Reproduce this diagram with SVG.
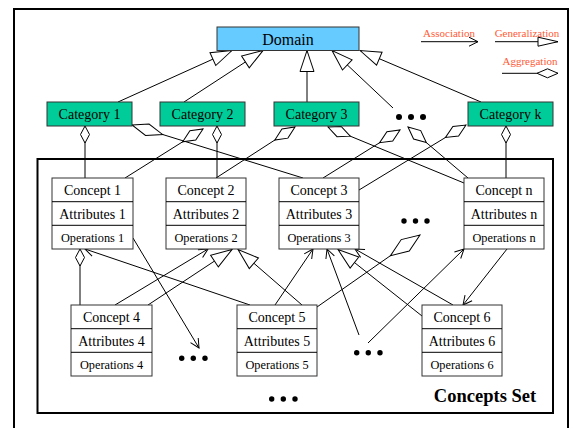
<svg xmlns="http://www.w3.org/2000/svg" width="581" height="428" viewBox="0 0 581 428">
<style>
text{font-family:"Liberation Serif","Times New Roman",serif;fill:#000;text-anchor:middle}
.box{fill:#fff;stroke:#333;stroke-width:1}
.dom{fill:#66CCFF;stroke:#333;stroke-width:1}
.cat{fill:#00CC99;stroke:#333;stroke-width:1}
.t14{font-size:14px}
.t12{font-size:12.3px}
.lg{font-size:11px;fill:#FF5A36}
.c{fill:none;stroke:#000;stroke-width:1}
.frame{fill:none;stroke:#000;stroke-width:2}
.dot{fill:#000}
</style>
<defs>
<marker id="tri" markerUnits="userSpaceOnUse" orient="auto" refX="0" refY="0" overflow="visible"><path d="M0,0 L-21,-7 L-21,7 Z" fill="#fff" stroke="#000" stroke-width="1"/></marker>
<marker id="triS" markerUnits="userSpaceOnUse" orient="auto" refX="0" refY="0" overflow="visible"><path d="M0,0 L-20,-4.5 L-20,4.5 Z" fill="#fff" stroke="#000" stroke-width="1"/></marker>
<marker id="arr" markerUnits="userSpaceOnUse" orient="auto" refX="0" refY="0" overflow="visible"><path d="M-9,-4.5 L0,0 L-9,4.5" fill="none" stroke="#000" stroke-width="1"/></marker>
<marker id="dS" markerUnits="userSpaceOnUse" orient="auto" refX="0" refY="0" overflow="visible"><path d="M0,0 L8.5,-4.5 L17,0 L8.5,4.5 Z" fill="#fff" stroke="#000" stroke-width="1"/></marker>
<marker id="dM" markerUnits="userSpaceOnUse" orient="auto" refX="0" refY="0" overflow="visible"><path d="M0,0 L12,-5.5 L24,0 L12,5.5 Z" fill="#fff" stroke="#000" stroke-width="1"/></marker>
<marker id="dL" markerUnits="userSpaceOnUse" orient="auto" refX="0" refY="0" overflow="visible"><path d="M0,0 L16,-6 L32,0 L16,6 Z" fill="#fff" stroke="#000" stroke-width="1"/></marker>
<marker id="dXL" markerUnits="userSpaceOnUse" orient="auto" refX="0" refY="0" overflow="visible"><path d="M0,0 L18,-7 L36,0 L18,7 Z" fill="#fff" stroke="#000" stroke-width="1"/></marker>
<marker id="dLg" markerUnits="userSpaceOnUse" orient="auto" refX="0" refY="0" overflow="visible"><path d="M0,0 L10.5,-4.5 L21,0 L10.5,4.5 Z" fill="#fff" stroke="#000" stroke-width="1"/></marker>
</defs>

<rect class="frame" x="14" y="9" width="554" height="440"/>
<rect class="frame" x="37.5" y="159" width="515.5" height="254"/>

<g id="connectors">
<!-- generalizations to Domain -->
<path class="c" d="M118,102 L232,50.5" marker-end="url(#tri)"/>
<path class="c" d="M184,102 L263,50.5" marker-end="url(#tri)"/>
<path class="c" d="M307,102 L307,50.5" marker-end="url(#tri)"/>
<path class="c" d="M393,108 L332,50.5" marker-end="url(#tri)"/>
<path class="c" d="M481,102 L360,50.5" marker-end="url(#tri)"/>
<!-- aggregations categories to concepts -->
<path class="c" d="M85,126 L85,178" marker-start="url(#dS)"/>
<path class="c" d="M217,126 L217,178" marker-start="url(#dS)"/>
<path class="c" d="M506,126 L506,178" marker-start="url(#dS)"/>
<path class="c" d="M132,125 L303,178" marker-start="url(#dL)"/>
<path class="c" d="M203,129 L125,178" marker-start="url(#dM)"/>
<path class="c" d="M295,127 L216,178" marker-start="url(#dM)"/>
<path class="c" d="M328,127 L464,183" marker-start="url(#dM)"/>
<path class="c" d="M400,130 L323,178" marker-start="url(#dM)"/>
<path class="c" d="M408,127 L468,178" marker-start="url(#dM)"/>
<path class="c" d="M466,125 L359,190" marker-start="url(#dM)"/>
<!-- concept level -->
<path class="c" d="M80,249 L80,305" marker-start="url(#dS)"/>
<path class="c" d="M420,235 L317,307" marker-start="url(#dXL)"/>
<path class="c" d="M148,305 L232,249.5" marker-end="url(#tri)"/>
<path class="c" d="M302,305 L238,249.5" marker-end="url(#tri)"/>
<path class="c" d="M422,316 L338,249.5" marker-end="url(#tri)"/>
<path class="c" d="M250,305 L85,249" marker-end="url(#arr)"/>
<path class="c" d="M133,238 L199,348" marker-end="url(#arr)"/>
<path class="c" d="M115,305 L208,249" marker-end="url(#arr)"/>
<path class="c" d="M275,305 L313,249" marker-end="url(#arr)"/>
<path class="c" d="M359,335 L327,249" marker-end="url(#arr)"/>
<path class="c" d="M453,305 L355,249" marker-end="url(#arr)"/>
<path class="c" d="M368,343 L464,249" marker-end="url(#arr)"/>
<path class="c" d="M507,249 L463,305" marker-end="url(#arr)"/>
</g>

<g id="legend">
<text class="lg" x="449" y="36.5">Association</text>
<path class="c" d="M421,41.7 L478,41.7" marker-end="url(#arr)"/>
<text class="lg" x="527" y="36.5">Generalization</text>
<path class="c" d="M495,41.7 L558,41.7" marker-end="url(#triS)"/>
<text class="lg" x="530" y="64.5">Aggregation</text>
<path class="c" d="M558,73.3 L502,73.3" marker-start="url(#dLg)"/>
</g>

<g id="domain">
<rect class="dom" x="217" y="27" width="142" height="23.5"/>
<text x="288" y="44.5" style="font-size:16px">Domain</text>
</g>

<g id="category1"><rect class="cat" x="47" y="102" width="85" height="24"/><text class="t14" x="89.5" y="119">Category 1</text></g>
<g id="category2"><rect class="cat" x="160" y="102" width="85" height="24"/><text class="t14" x="202.5" y="119">Category 2</text></g>
<g id="category3"><rect class="cat" x="274" y="102" width="85" height="24"/><text class="t14" x="316.5" y="119">Category 3</text></g>
<g id="categoryk"><rect class="cat" x="468" y="102" width="85" height="24"/><text class="t14" x="510.5" y="119">Category k</text></g>
<g id="dotsCat"><circle class="dot" cx="399" cy="117" r="3"/><circle class="dot" cx="411" cy="117" r="3"/><circle class="dot" cx="423" cy="117" r="3"/></g>

<g id="concept1">
<rect class="box" x="52" y="178" width="81" height="71"/>
<path class="c" d="M52,201.7 H133 M52,225.3 H133" stroke="#333"/>
<text class="t14" x="92.5" y="195">Concept 1</text>
<text class="t14" x="92.5" y="218.5">Attributes 1</text>
<text class="t12" x="92.5" y="241.5">Operations 1</text>
</g>
<g id="concept2">
<rect class="box" x="166" y="178" width="80" height="71"/>
<path class="c" d="M166,201.7 H246 M166,225.3 H246" stroke="#333"/>
<text class="t14" x="206" y="195">Concept 2</text>
<text class="t14" x="206" y="218.5">Attributes 2</text>
<text class="t12" x="206" y="241.5">Operations 2</text>
</g>
<g id="concept3">
<rect class="box" x="279" y="178" width="80" height="71"/>
<path class="c" d="M279,201.7 H359 M279,225.3 H359" stroke="#333"/>
<text class="t14" x="319" y="195">Concept 3</text>
<text class="t14" x="319" y="218.5">Attributes 3</text>
<text class="t12" x="319" y="241.5">Operations 3</text>
</g>
<g id="conceptn">
<rect class="box" x="464" y="178" width="80" height="71"/>
<path class="c" d="M464,201.7 H544 M464,225.3 H544" stroke="#333"/>
<text class="t14" x="504" y="195">Concept n</text>
<text class="t14" x="504" y="218.5">Attributes n</text>
<text class="t12" x="504" y="241.5">Operations n</text>
</g>
<g id="concept4">
<rect class="box" x="71" y="305" width="81" height="71"/>
<path class="c" d="M71,328.7 H152 M71,352.3 H152" stroke="#333"/>
<text class="t14" x="111.5" y="322">Concept 4</text>
<text class="t14" x="111.5" y="345.5">Attributes 4</text>
<text class="t12" x="111.5" y="368.5">Operations 4</text>
</g>
<g id="concept5">
<rect class="box" x="237" y="305" width="80" height="71"/>
<path class="c" d="M237,328.7 H317 M237,352.3 H317" stroke="#333"/>
<text class="t14" x="277" y="322">Concept 5</text>
<text class="t14" x="277" y="345.5">Attributes 5</text>
<text class="t12" x="277" y="368.5">Operations 5</text>
</g>
<g id="concept6">
<rect class="box" x="422" y="305" width="80" height="71"/>
<path class="c" d="M422,328.7 H502 M422,352.3 H502" stroke="#333"/>
<text class="t14" x="462" y="322">Concept 6</text>
<text class="t14" x="462" y="345.5">Attributes 6</text>
<text class="t12" x="462" y="368.5">Operations 6</text>
</g>

<g id="dotsConcepts">
<circle class="dot" cx="404" cy="221" r="2.7"/><circle class="dot" cx="415.5" cy="221" r="2.7"/><circle class="dot" cx="427" cy="221" r="2.7"/>
<circle class="dot" cx="181.7" cy="358.3" r="2.7"/><circle class="dot" cx="193.3" cy="358.3" r="2.7"/><circle class="dot" cx="205" cy="358.3" r="2.7"/>
<circle class="dot" cx="356.7" cy="352.7" r="2.7"/><circle class="dot" cx="368.3" cy="352.7" r="2.7"/><circle class="dot" cx="380" cy="352.7" r="2.7"/>
<circle class="dot" cx="271.7" cy="399" r="2.7"/><circle class="dot" cx="283.3" cy="399" r="2.7"/><circle class="dot" cx="295" cy="399" r="2.7"/>
</g>

<text x="485" y="401.5" style="font-size:18.5px;font-weight:bold">Concepts Set</text>
</svg>
